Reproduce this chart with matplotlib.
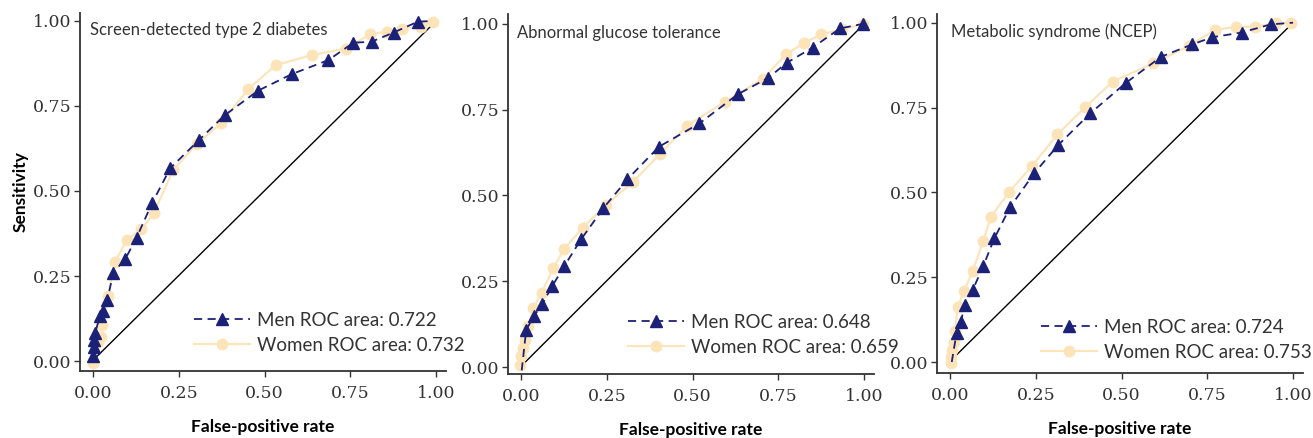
import matplotlib
matplotlib.use("Agg")
import matplotlib.pyplot as plt

# ---------------- data ----------------
titles = ["Screen-detected type 2 diabetes", "Abnormal glucose tolerance", "Metabolic syndrome (NCEP)"]
men_auc = ["0.722", "0.648", "0.724"]
women_auc = ["0.732", "0.659", "0.753"]

men1_x = [0.0, 0.004, 0.002, 0.006, 0.02, 0.03, 0.042, 0.059, 0.094, 0.127, 0.172, 0.225, 0.309, 0.384, 0.481, 0.58, 0.686, 0.759, 0.812, 0.876, 0.947, 0.99]
men1_y = [0.015, 0.042, 0.062, 0.082, 0.132, 0.148, 0.18, 0.26, 0.30, 0.363, 0.464, 0.567, 0.65, 0.723, 0.795, 0.844, 0.885, 0.936, 0.939, 0.966, 0.998, 1.0]
women1_x = [0.0, 0.015, 0.024, 0.027, 0.043, 0.064, 0.098, 0.141, 0.177, 0.233, 0.302, 0.374, 0.453, 0.532, 0.639, 0.737, 0.808, 0.856, 0.902, 0.955, 0.99]
women1_y = [-0.005, 0.055, 0.072, 0.106, 0.192, 0.29, 0.356, 0.387, 0.434, 0.561, 0.638, 0.70, 0.80, 0.87, 0.90, 0.919, 0.961, 0.969, 0.976, 0.983, 0.998]

men2_x = [0.002, 0.015, 0.038, 0.062, 0.091, 0.126, 0.175, 0.24, 0.31, 0.402, 0.52, 0.632, 0.721, 0.775, 0.85, 0.93, 0.996]
men2_y = [-0.01, 0.108, 0.149, 0.184, 0.236, 0.294, 0.372, 0.463, 0.547, 0.642, 0.71, 0.795, 0.843, 0.887, 0.931, 0.987, 1.0]
women2_x = [-0.004, 0.0, 0.005, 0.012, 0.021, 0.036, 0.06, 0.094, 0.125, 0.18, 0.247, 0.327, 0.405, 0.483, 0.595, 0.705, 0.773, 0.825, 0.875, 0.935, 0.998]
women2_y = [0.006, 0.032, 0.054, 0.079, 0.12, 0.171, 0.217, 0.288, 0.343, 0.406, 0.472, 0.54, 0.621, 0.703, 0.773, 0.84, 0.912, 0.944, 0.97, 0.984, 1.0]

men3_x = [0.005, 0.019, 0.031, 0.044, 0.066, 0.097, 0.129, 0.175, 0.245, 0.316, 0.409, 0.513, 0.616, 0.706, 0.764, 0.85, 0.935, 1.0]
men3_y = [0.0, 0.085, 0.119, 0.168, 0.212, 0.283, 0.364, 0.456, 0.556, 0.64, 0.733, 0.823, 0.90, 0.936, 0.957, 0.971, 0.995, 1.0]
women3_x = [0.004, 0.002, 0.007, 0.013, 0.015, 0.022, 0.041, 0.066, 0.097, 0.119, 0.173, 0.24, 0.313, 0.394, 0.474, 0.592, 0.697, 0.771, 0.833, 0.889, 0.949, 0.994]
women3_y = [-0.002, 0.016, 0.035, 0.058, 0.091, 0.163, 0.209, 0.268, 0.357, 0.428, 0.502, 0.579, 0.671, 0.751, 0.826, 0.88, 0.932, 0.978, 0.988, 0.988, 0.998, 1.0]

diag_x = [0.008, 0.99]
diag_y = [0.01, 0.99]

tick_vals = [0.0, 0.25, 0.5, 0.75, 1.0]
tick_labels = ["0.00", "0.25", "0.50", "0.75", "1.00"]

# ---------------- style ----------------
W, H = 1313, 438
MEN_C = "#1c2178"
WOMEN_C = "#fde3b8"
TXT_C = "#333333"
SANS = ["Lato", "DejaVu Sans"]
SERIF = ["DejaVu Serif"]

fig = plt.figure(figsize=(W / 100, H / 100), dpi=100)

# axes boxes in pixels: left, top, right, bottom
boxes = [(80, 13, 446, 371), (508, 14, 874, 374), (937, 14, 1303, 373)]
ylims = [(-0.0294, 1.0235), (-0.0204, 1.029), (-0.0324, 1.0256)]
xlim = (-0.038, 1.029)
# legend anchor (pixels: left, top)
leg_pos = [(194, 312), (628, 314), (1041, 319)]
title_pos = [(90, 30), (517, 33), (951, 32)]

men = [(men1_x, men1_y), (men2_x, men2_y), (men3_x, men3_y)]
women = [(women1_x, women1_y), (women2_x, women2_y), (women3_x, women3_y)]
# which men points carry a visible marker (others hidden in the original)
men_marks = [list(range(len(men1_x) - 1)), list(range(1, len(men2_x))),
             list(range(1, len(men3_x) - 1))]

for i in range(3):
    l, t, r, b = boxes[i]
    ax = fig.add_axes([l / W, 1 - b / H, (r - l) / W, (b - t) / H])
    ax.set_xlim(*xlim)
    ax.set_ylim(*ylims[i])
    ax.plot(diag_x, diag_y, color="black", lw=1.0, zorder=1)
    wx, wy = women[i]
    mx, my = men[i]
    hw, = ax.plot(wx, wy, color=WOMEN_C, lw=1.5, marker="o", ms=7.5, mec=WOMEN_C,
                  mfc=WOMEN_C, zorder=2, label=f"Women ROC area: {women_auc[i]}")
    hm, = ax.plot(mx, my, color=MEN_C, lw=1.3, ls=(0, (4.5, 3)), marker="^", ms=8.5,
                  mec=MEN_C, mfc=MEN_C, zorder=3, markevery=men_marks[i],
                  label=f"Men ROC area: {men_auc[i]}")
    for s in ["top", "right"]:
        ax.spines[s].set_visible(False)
    for s in ["left", "bottom"]:
        ax.spines[s].set_color(TXT_C)
        ax.spines[s].set_linewidth(1.3)
    ax.set_xticks(tick_vals)
    ax.set_xticklabels(tick_labels)
    ax.set_yticks(tick_vals)
    ax.set_yticklabels(tick_labels)
    ax.tick_params(axis="both", length=4, width=1.0, color=TXT_C, labelcolor=TXT_C,
                   labelsize=12.5)
    ax.tick_params(axis="y", pad=2)
    ax.tick_params(axis="x", pad=6)
    for lab in ax.get_xticklabels() + ax.get_yticklabels():
        lab.set_family(SERIF)
    ax.set_xlabel("False-positive rate", fontsize=12.5, fontweight="bold",
                  family=SANS, color="black", labelpad=12)
    if i == 0:
        ax.set_ylabel("Sensitivity", fontsize=12.5, fontweight="bold",
                      family=SANS, color="black", labelpad=3)
    tx, ty = title_pos[i]
    fig.text(tx / W, 1 - ty / H, titles[i], family=SANS, fontsize=12.0,
             color=TXT_C, ha="left", va="center")
    lx, ly = leg_pos[i]
    leg = ax.legend(handles=[hm, hw], loc="upper left",
                    bbox_to_anchor=(lx / W, 1 - ly / H), bbox_transform=fig.transFigure,
                    frameon=False, borderpad=0, borderaxespad=0, handlelength=3.0,
                    handletextpad=0.35, labelspacing=0.42, numpoints=1,
                    prop={"family": SANS, "size": 13.5})
    for txt in leg.get_texts():
        txt.set_color(TXT_C)

fig.savefig("out.png", dpi=100)
